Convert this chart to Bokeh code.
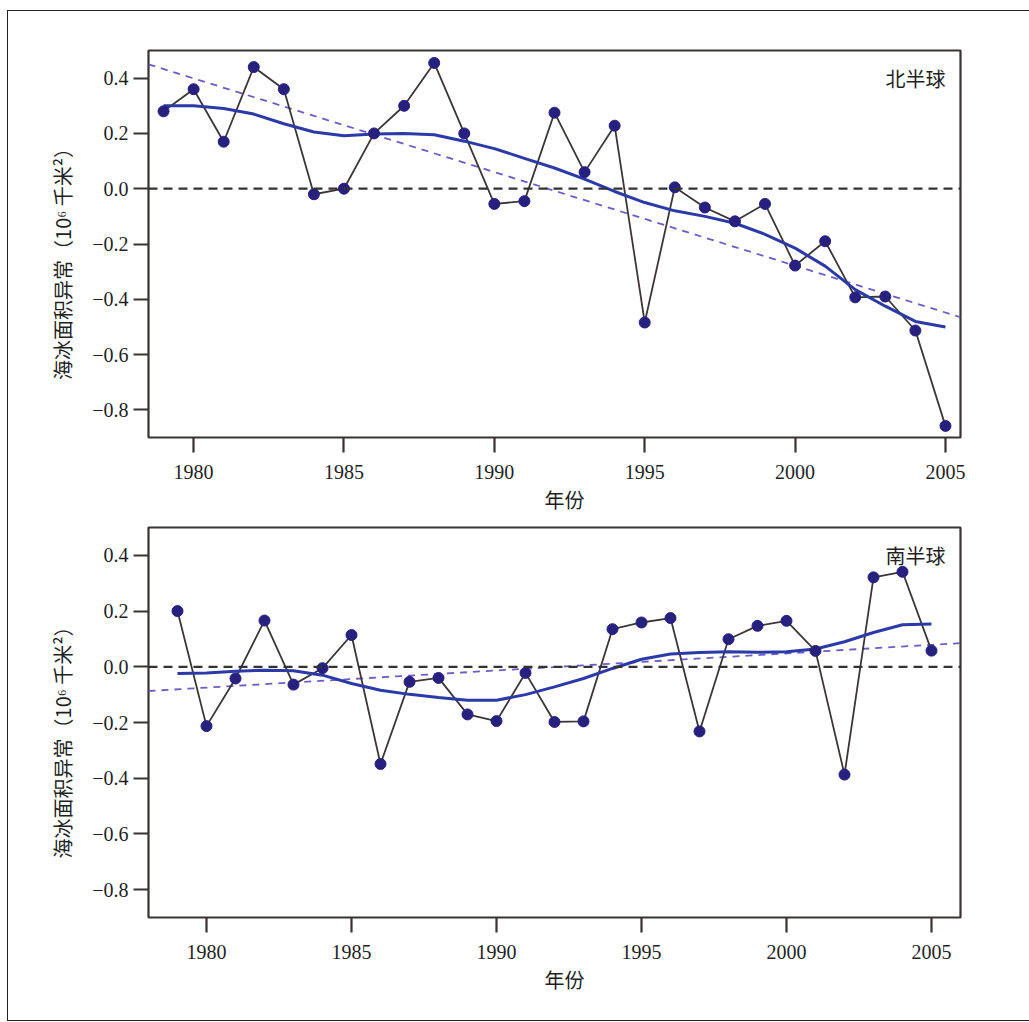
from bokeh.plotting import figure
from bokeh.models import Range1d, Label, FixedTicker, Span, Column
from bokeh.embed import file_html
from bokeh.resources import INLINE

# ---------------- data ----------------
years = list(range(1979, 2006))

nh_anomaly = [0.28, 0.36, 0.17, 0.44, 0.36, -0.02, 0.00, 0.20, 0.30, 0.455,
              0.20, -0.055, -0.045, 0.275, 0.06, 0.228, -0.484, 0.005, -0.068,
              -0.118, -0.055, -0.278, -0.19, -0.393, -0.39, -0.513, -0.858]
nh_smooth = [0.30, 0.30, 0.29, 0.27, 0.235, 0.205, 0.192, 0.198, 0.20, 0.195,
             0.172, 0.145, 0.11, 0.075, 0.035, -0.01, -0.05, -0.08, -0.10,
             -0.125, -0.165, -0.215, -0.28, -0.365, -0.425, -0.48, -0.50]
nh_trend_years = [1978.5, 2005.5]
nh_trend = [0.45, -0.465]

sh_anomaly = [0.20, -0.213, -0.042, 0.166, -0.064, -0.005, 0.114, -0.349,
              -0.054, -0.04, -0.171, -0.195, -0.022, -0.198, -0.196, 0.135,
              0.159, 0.175, -0.232, 0.099, 0.147, 0.165, 0.057, -0.387, 0.321,
              0.341, 0.058]
sh_smooth = [-0.024, -0.022, -0.016, -0.012, -0.014, -0.03, -0.06, -0.084,
             -0.099, -0.11, -0.12, -0.12, -0.10, -0.072, -0.042, -0.006, 0.027,
             0.046, 0.051, 0.054, 0.052, 0.054, 0.064, 0.09, 0.123, 0.151, 0.154]
sh_trend_years = [1978.0, 2006.0]
sh_trend = [-0.087, 0.085]

x_ticks = [1980, 1985, 1990, 1995, 2000, 2005]
y_ticks = [-0.8, -0.6, -0.4, -0.2, 0.0, 0.2, 0.4]
y_tick_labels = ["\u22120.8", "\u22120.6", "\u22120.4", "\u22120.2", "0.0", "0.2", "0.4"]

y_label = "海冰面积异常（10⁶ 千米²）\u3000\u3000"
x_label = "\u3000年份"
nh_name = "北半球"
sh_name = "南半球"

# ---------------- style ----------------
FRAME = "#3a3333"
TXT = "#231f1f"
PT = "#27207e"
LINE = "#3d3636"
SMOOTH = "#2b3aa6"
TREND = "#6c5cc4"
SERIF = "Liberation Serif"
CJK = "Noto Sans CJK SC"


def make_panel(x0, x1, w, h, bl, br, bt, bb, anomaly, smooth, tx, ty, name):
    p = figure(width=w, height=h, x_range=Range1d(x0, x1), y_range=Range1d(-0.9, 0.5),
               output_backend="svg", toolbar_location=None,
               min_border_left=bl, min_border_right=br,
               min_border_top=bt, min_border_bottom=bb)
    p.background_fill_color = "white"
    p.border_fill_color = "white"
    p.outline_line_color = FRAME
    p.outline_line_width = 2.2
    p.xgrid.visible = False
    p.ygrid.visible = False

    p.add_layout(Span(location=0, dimension="width", line_color="#333333",
                      line_width=2.2, line_dash="9 6"))
    p.line(tx, ty, line_color=TREND, line_width=1.8, line_dash="7 6")
    p.line(years, anomaly, line_color=LINE, line_width=1.8)
    p.line(years, smooth, line_color=SMOOTH, line_width=3)
    p.scatter(years, anomaly, size=11, fill_color=PT, line_color=PT)

    p.add_layout(Label(x=x1, y=0.40, x_offset=-15, text=name, text_align="right",
                       text_baseline="middle", text_font=CJK, text_font_size="20px",
                       text_color=TXT))

    for ax in (p.xaxis[0], p.yaxis[0]):
        ax.axis_line_color = None
        ax.major_tick_in = 0
        ax.major_tick_out = 15
        ax.major_tick_line_width = 2.2
        ax.major_tick_line_color = FRAME
        ax.minor_tick_line_color = None
        ax.major_label_text_font = SERIF
        ax.major_label_text_font_size = "20px"
        ax.major_label_text_color = TXT
        ax.axis_label_text_font = CJK
        ax.axis_label_text_font_size = "20px"
        ax.axis_label_text_font_style = "normal"
        ax.axis_label_text_color = TXT

    xa = p.xaxis[0]
    xa.ticker = FixedTicker(ticks=x_ticks)
    xa.major_label_standoff = 12
    xa.axis_label = x_label
    xa.axis_label_standoff = 3

    ya = p.yaxis[0]
    ya.ticker = FixedTicker(ticks=y_ticks)
    ya.major_label_overrides = {t: s for t, s in zip(y_ticks, y_tick_labels)}
    ya.major_label_standoff = 5
    ya.axis_label = y_label
    ya.axis_label_standoff = 12
    return p


p1 = make_panel(1978.5, 2005.5, 1021, 506, 140, 69, 39, 80,
                nh_anomaly, nh_smooth, nh_trend_years, nh_trend, nh_name)
p2 = make_panel(1978.0, 2006.0, 1021, 503, 139, 65, 10, 103,
                sh_anomaly, sh_smooth, sh_trend_years, sh_trend, sh_name)

layout = Column(children=[p1, p2],
                styles={"border-top": "1px solid #222", "border-left": "1px solid #222",
                        "border-bottom": "1px solid #222",
                        "margin-top": "10px", "margin-left": "7px",
                        "margin-bottom": "-12px",
                        "background-color": "white"})

open("out.html", "w").write(file_html(layout, INLINE))
